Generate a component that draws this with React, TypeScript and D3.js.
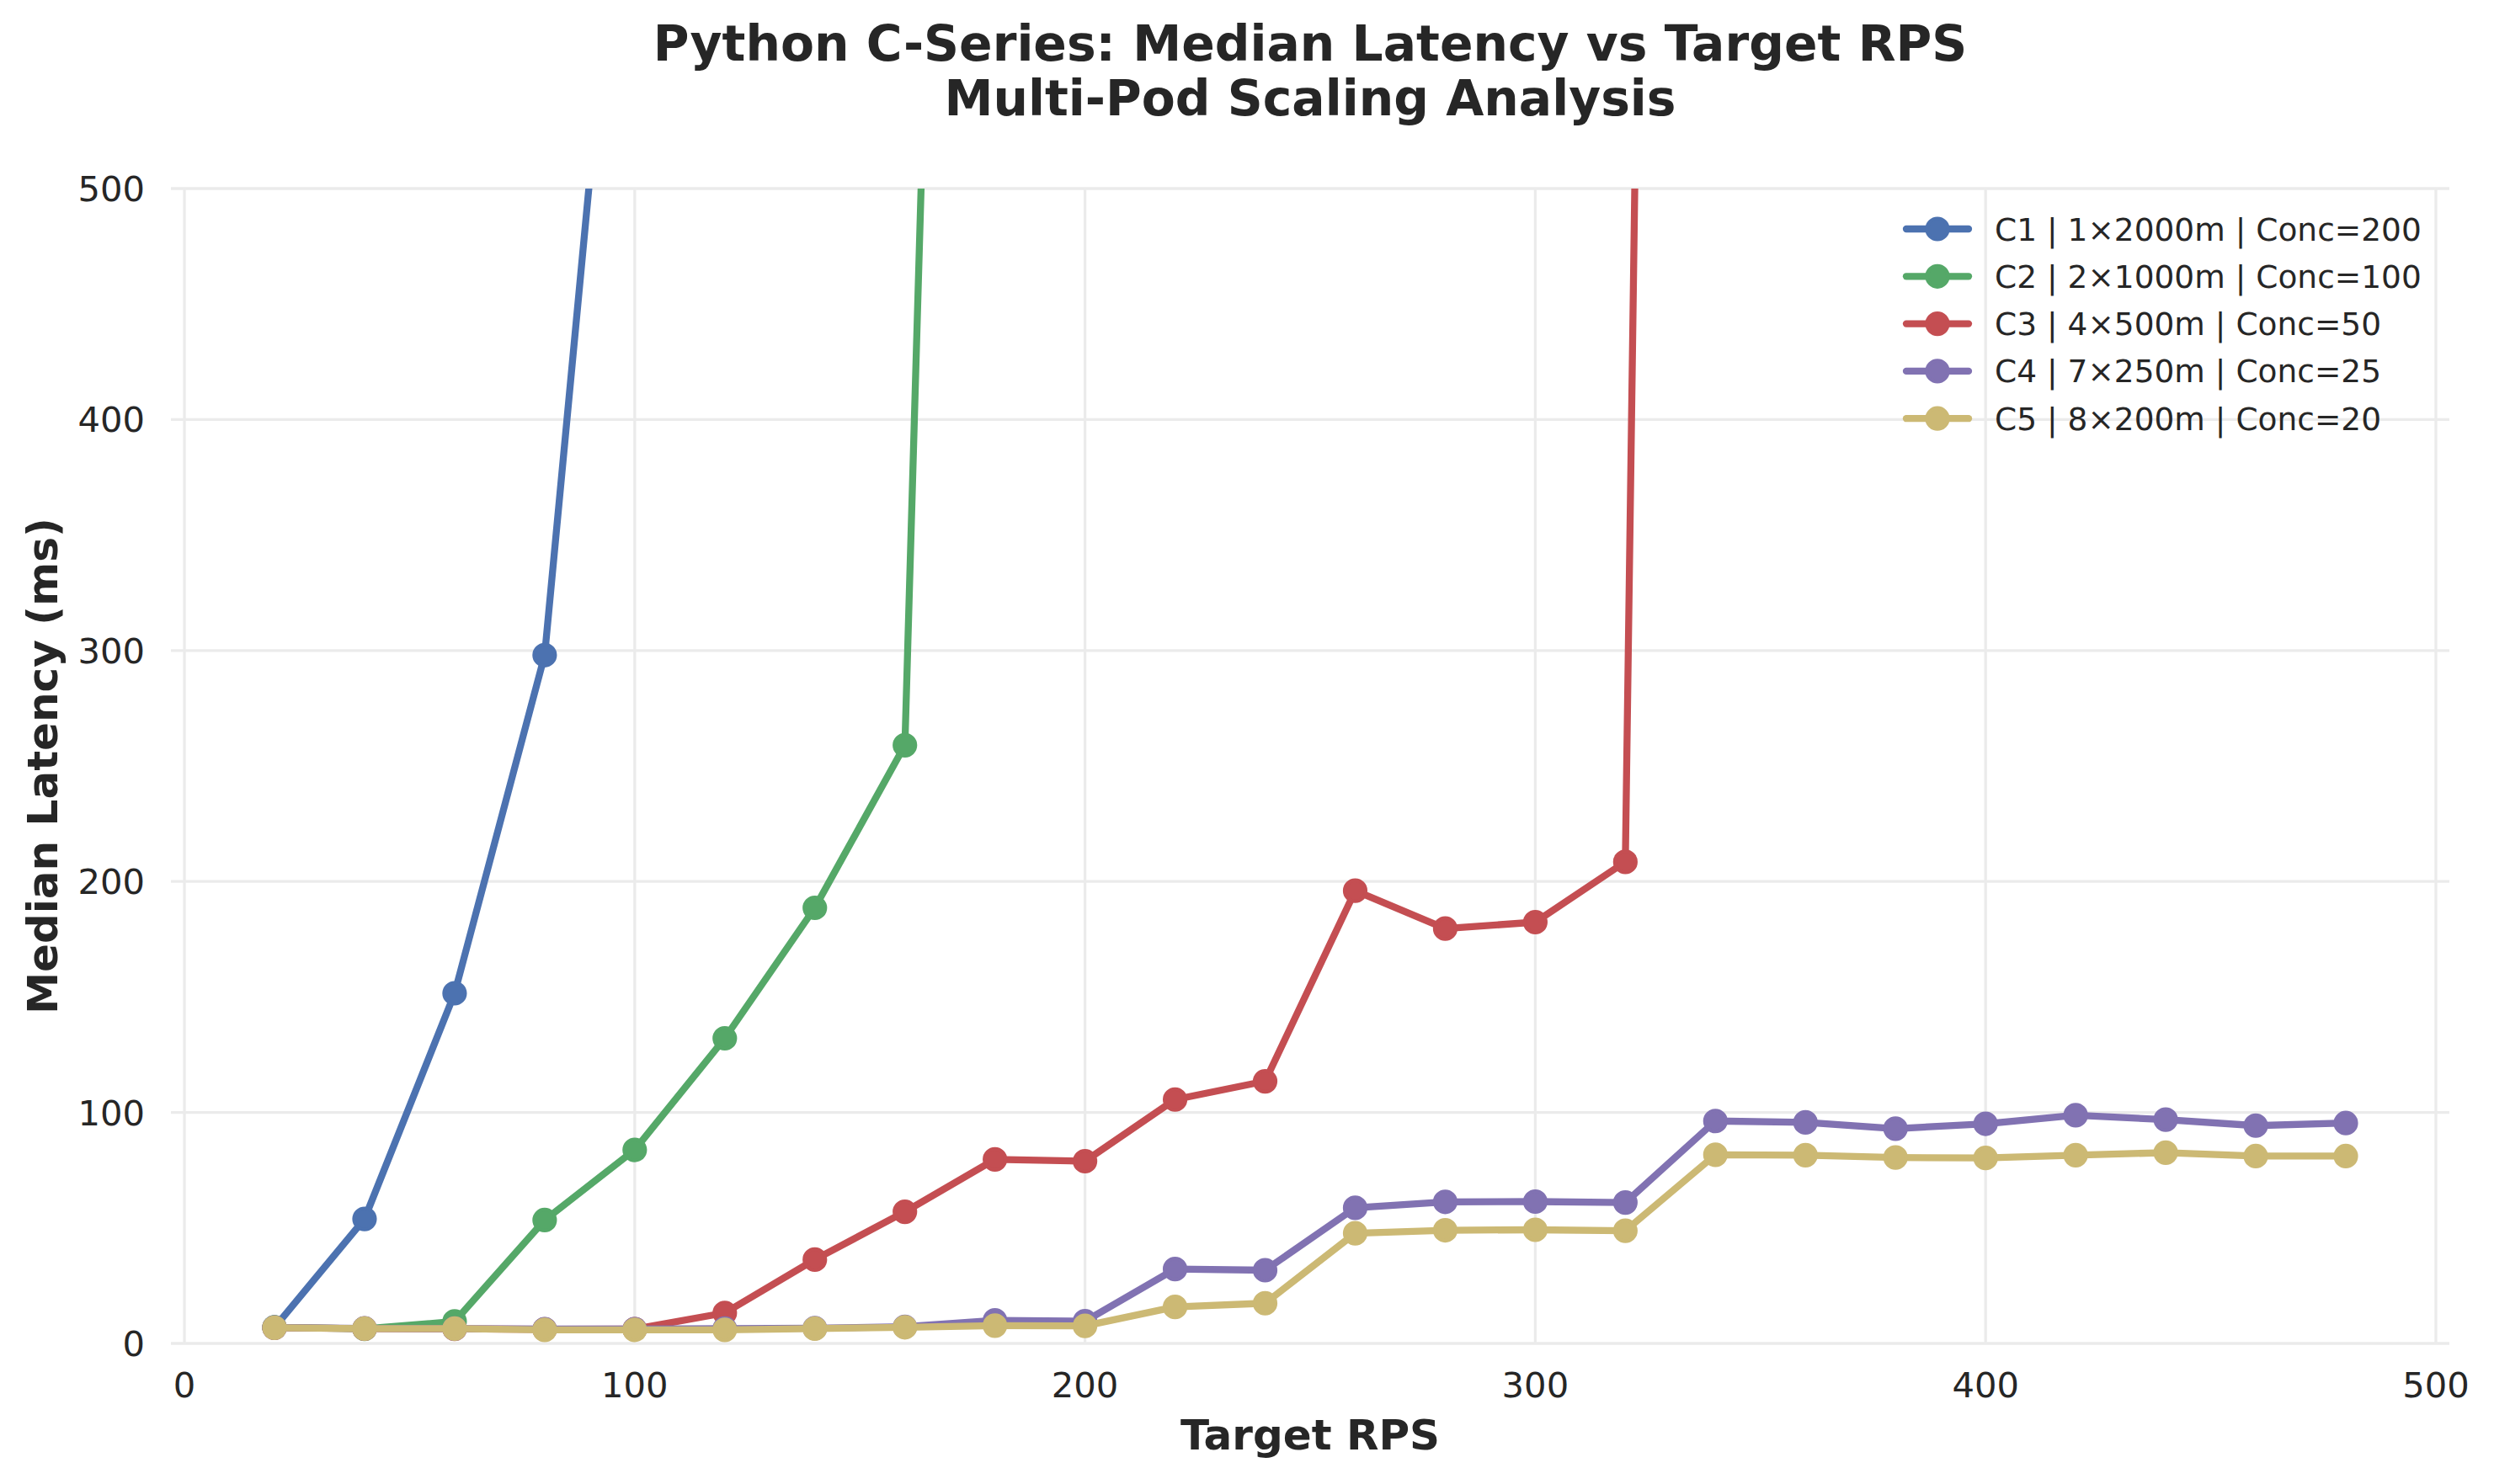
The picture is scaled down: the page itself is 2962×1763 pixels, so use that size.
import * as d3 from 'd3';

const rps = [20, 40, 60, 80, 100, 120, 140, 160, 180, 200, 220, 240, 260, 280, 300, 320, 340, 360, 380, 400, 420, 440, 460, 480];

// median latency in ms, one value per rps step (series stop once they leave the chart)
const c1Latency = [6.9, 53.9, 151.6, 298.0, 710];
const c2Latency = [7.0, 6.3, 9.5, 53.4, 83.8, 132.1, 188.6, 259.0, 1600];
const c3Latency = [6.8, 6.4, 6.3, 6.1, 6.2, 13.2, 36.3, 57.0, 79.7, 78.9, 105.6, 113.5, 196.0, 179.6, 182.4, 208.5, 3000];
const c4Latency = [6.9, 6.5, 6.4, 6.2, 6.2, 6.4, 6.6, 7.2, 10.0, 9.6, 32.2, 31.7, 58.7, 61.3, 61.4, 61.0, 96.3, 95.7, 93.0, 95.1, 98.8, 96.9, 94.3, 95.4];
const c5Latency = [6.8, 6.4, 6.4, 5.9, 5.9, 5.9, 6.4, 7.0, 7.7, 7.6, 15.8, 17.4, 47.7, 49.0, 49.2, 48.8, 81.7, 81.5, 80.5, 80.3, 81.5, 82.6, 81.1, 81.1];

const seriesNames = [
  'C1 | 1×2000m | Conc=200',
  'C2 | 2×1000m | Conc=100',
  'C3 | 4×500m | Conc=50',
  'C4 | 7×250m | Conc=25',
  'C5 | 8×200m | Conc=20',
];
const seriesColors = ['#4C72B0', '#55A868', '#C44E52', '#8172B2', '#CCB974'];
const seriesValues = [c1Latency, c2Latency, c3Latency, c4Latency, c5Latency];

const xTicks = [0, 100, 200, 300, 400, 500];
const yTicks = [0, 100, 200, 300, 400, 500];

const W = 2962;
const H = 1763;
const plot = { left: 203, right: 2909, top: 224, bottom: 1596 };
const textColor = '#262626';
const font = '"DejaVu Sans", sans-serif';

export default function App() {
  const x = d3.scaleLinear().domain([-3, 503]).range([plot.left, plot.right]);
  const y = d3.scaleLinear().domain([0, 500]).range([plot.bottom, plot.top]);

  const series = seriesValues.map((vals, i) => ({
    name: seriesNames[i],
    color: seriesColors[i],
    points: vals.map((v, j) => [rps[j], v] as [number, number]),
  }));

  const line = d3.line<[number, number]>()
    .x(d => x(d[0]))
    .y(d => y(d[1]));

  const cx = (plot.left + plot.right) / 2;
  const cy = (plot.top + plot.bottom) / 2;

  return (
    <svg width={W} height={H} style={{ position: 'absolute', left: 0, top: 0, background: '#fff' }} fontFamily={font}>
      <defs>
        <clipPath id="plot-clip">
          <rect x={plot.left} y={plot.top} width={plot.right - plot.left} height={plot.bottom - plot.top} />
        </clipPath>
      </defs>
      <rect width={W} height={H} fill="#fff" />

      {/* grid */}
      <g stroke="#ebebeb" strokeWidth={3.3}>
        {xTicks.map(t => (
          <line key={'gx' + t} x1={x(t)} x2={x(t)} y1={plot.top} y2={plot.bottom} />
        ))}
        {yTicks.map(t => (
          <line key={'gy' + t} x1={plot.left} x2={plot.right} y1={y(t)} y2={y(t)} />
        ))}
      </g>

      {/* tick labels */}
      <g fill={textColor} fontSize={41.7}>
        {xTicks.map(t => (
          <text key={'tx' + t} x={x(t)} y={1660} textAnchor="middle">{t}</text>
        ))}
        {yTicks.map(t => (
          <text key={'ty' + t} x={172} y={y(t)} dy="0.36em" textAnchor="end">{t}</text>
        ))}
      </g>

      {/* data */}
      <g clipPath="url(#plot-clip)">
        {series.map(s => (
          <g key={s.name}>
            <path d={line(s.points) || ''} fill="none" stroke={s.color} strokeWidth={8.3} strokeLinejoin="round" strokeLinecap="round" />
            {s.points.map((p, j) => (
              <circle key={j} cx={x(p[0])} cy={y(p[1])} r={12.5} fill={s.color} stroke={s.color} strokeWidth={4.2} />
            ))}
          </g>
        ))}
      </g>

      {/* legend */}
      <g>
        {series.map((s, i) => {
          const ry = 272 + i * 56.3;
          return (
            <g key={'lg' + i}>
              <line x1={2264} x2={2338} y1={ry} y2={ry} stroke={s.color} strokeWidth={8.3} strokeLinecap="round" />
              <circle cx={2301} cy={ry} r={12.5} fill={s.color} stroke={s.color} strokeWidth={4.2} />
              <text x={2369} y={ry} dy="0.36em" fontSize={37.5} fill={textColor}>{s.name}</text>
            </g>
          );
        })}
      </g>

      {/* titles */}
      <text x={cx} y={72} textAnchor="middle" fontSize={58.3} fontWeight="bold" fill={textColor}>
        Python C-Series: Median Latency vs Target RPS
      </text>
      <text x={cx} y={137} textAnchor="middle" fontSize={58.3} fontWeight="bold" fill={textColor}>
        Multi-Pod Scaling Analysis
      </text>
      <text x={cx} y={1722} textAnchor="middle" fontSize={50} fontWeight="bold" fill={textColor}>
        Target RPS
      </text>
      <text transform={`translate(68,${cy}) rotate(-90)`} textAnchor="middle" fontSize={50} fontWeight="bold" fill={textColor}>
        Median Latency (ms)
      </text>
    </svg>
  );
}
